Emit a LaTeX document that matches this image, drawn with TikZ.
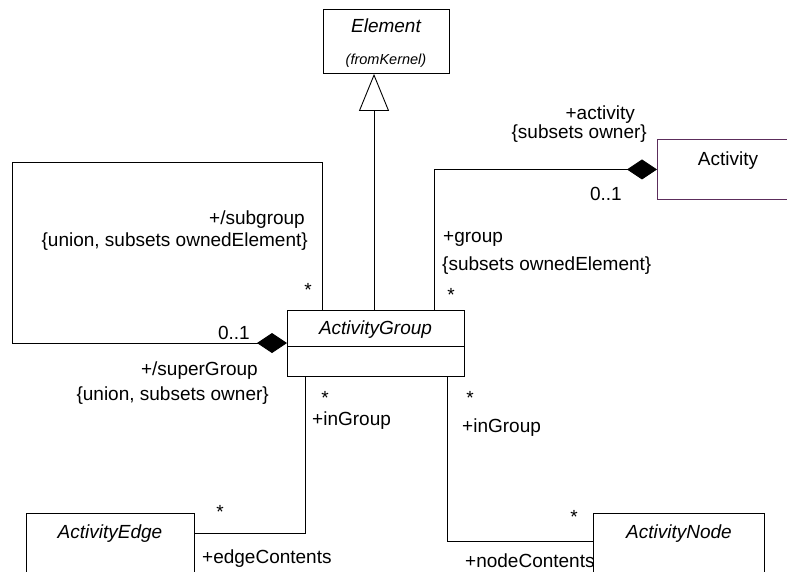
\documentclass[tikz,border=0pt]{standalone}
\usepackage{fontspec}
\setmainfont{Liberation Sans}
\usetikzlibrary{arrows.meta,calc}
\definecolor{ownerpurple}{RGB}{92,45,92}
\begin{document}
\begin{tikzpicture}[x=1pt,y=-1pt,
  every node/.style={font=\fontsize{19}{22}\selectfont},
  line/.style={line width=0.9pt,black},
  cls/.style={draw,line width=0.9pt,inner sep=0pt,anchor=north west},
  lbl/.style={inner sep=0pt,text height=14pt,text depth=0pt},
  clsname/.style={lbl,font=\fontsize{19}{22}\selectfont\itshape},
  comp/.style={line,-{Diamond[length=30pt,width=20pt]}},
  gen/.style={line,-{Triangle[open,length=37pt,width=30pt]}}]
  \useasboundingbox (0,0) rectangle (787,571);
  \fill[white] (0,0) rectangle (787,571);
  \clip (0,0) rectangle (787,571);

  % classes
  \node[cls,minimum width=126pt,minimum height=64pt] (element) at (323,9) {};
  \node[clsname] (elementname) at (386,25) {Element};
  \node[lbl,font=\fontsize{14.5}{17}\selectfont\itshape] (kernel) at (386,57) {(fromKernel)};

  \node[cls,minimum width=177pt,minimum height=66pt] (ag) at (287,310) {};
  \node[clsname] (agname) at (375.5,327) {ActivityGroup};
  \draw[line] ($(ag.north west)+(0,36)$) -- ($(ag.north east)+(0,36)$);

  \node[cls,draw=ownerpurple,minimum width=140pt,minimum height=60pt] (activity) at (657,139) {};
  \node[lbl] (activityname) at (728,158) {Activity};

  \node[cls,minimum width=168pt,minimum height=80pt] (edge) at (26,513) {};
  \node[clsname] (edgename) at (110,531) {ActivityEdge};

  \node[cls,minimum width=171pt,minimum height=80pt] (anode) at (593,513) {};
  \node[clsname] (anodename) at (679,531) {ActivityNode};

  % bend points of the connectors
  \coordinate (genx) at (374,0);
  \coordinate (loopA) at (322,162);
  \coordinate (loopB) at (12,162);
  \coordinate (loopC) at (12,343);
  \coordinate (actx) at (434,0);
  \coordinate (ebend) at (305,533);
  \coordinate (nbend) at (447,541);

  % generalization ActivityGroup -> Element
  \draw[gen] (ag.north -| genx) -- (element.south -| genx);

  % subgroup / superGroup composition
  \draw[comp] (ag.north -| loopA) -- (loopA) -- (loopB) -- (loopC) -- (ag.west |- loopC);

  % Activity owns groups
  \draw[comp] (ag.north -| actx) |- (activity.west);

  % group contents
  \draw[line] (ag.south -| ebend) -- (ebend) -- (edge.east |- ebend);
  \draw[line] (ag.south -| nbend) -- (nbend) -- (anode.west |- nbend);

  % association end labels
  \node[lbl,anchor=east] (subrole) at (305,217) {+/subgroup};
  \node[lbl,anchor=east] (subcons) at (308,239) {\{union, subsets ownedElement\}};
  \node[lbl] (submult) at (308,289) {*};
  \node[lbl,anchor=east] (supmult) at (250,332) {0..1};
  \node[lbl,anchor=east] (suprole) at (258,368) {+/superGroup};
  \node[lbl,anchor=east] (supcons) at (269,393) {\{union, subsets owner\}};

  \node[lbl,anchor=east] (actrole) at (635,112) {+activity};
  \node[lbl,anchor=east] (actcons) at (647,131) {\{subsets owner\}};
  \node[lbl,anchor=east] (actmult) at (622,193) {0..1};
  \node[lbl,anchor=west] (grprole) at (443,235) {+group};
  \node[lbl,anchor=west] (grpcons) at (442,263) {\{subsets ownedElement\}};
  \node[lbl] (grpmult) at (451,294) {*};

  \node[lbl] (eingmult) at (325,397) {*};
  \node[lbl,anchor=west] (eingrole) at (312,418) {+inGroup};
  \node[lbl] (emult) at (220,511) {*};
  \node[lbl,anchor=west] (erole) at (202,556) {+edgeContents};

  \node[lbl] (ningmult) at (470,397) {*};
  \node[lbl,anchor=west] (ningrole) at (462,425) {+inGroup};
  \node[lbl] (nmult) at (574,516) {*};
  \node[lbl,anchor=west] (nrole) at (465,560) {+nodeContents};
\end{tikzpicture}
\end{document}
